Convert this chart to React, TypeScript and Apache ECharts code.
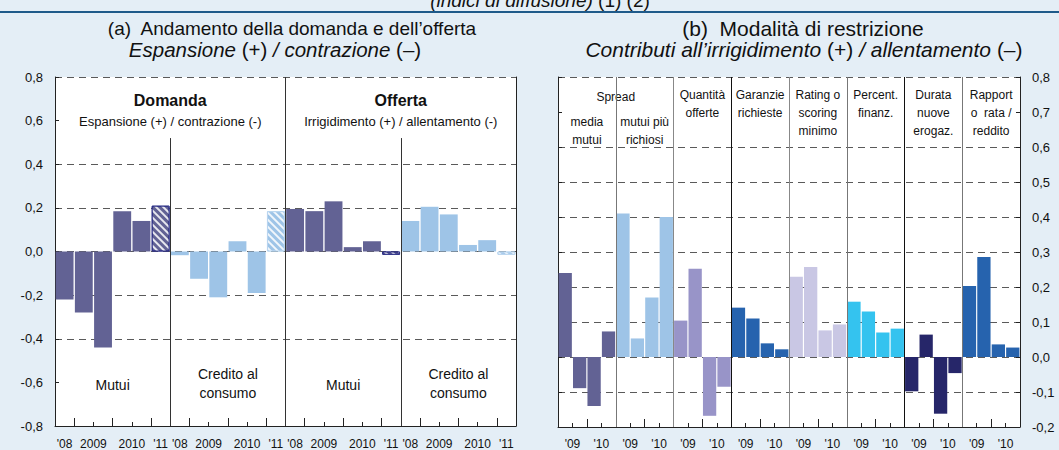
import React, { useEffect, useRef } from "react";
import * as echarts from "echarts";

// ---------- DATA ----------
// Panel (a): semi-annual periods, four blocks (demand: mortgages / consumer credit; supply: mortgages / consumer credit)
const leftGroups = ["Mutui (domanda)", "Credito al consumo (domanda)", "Mutui (offerta)", "Credito al consumo (offerta)"];
const leftPeriods = ["II 2008", "I 2009", "II 2009", "I 2010", "II 2010", "I 2011 (prev.)"];
const leftForecast = [false, false, false, false, false, true];
const demandMutui = [-0.22, -0.28, -0.44, 0.185, 0.14, 0.21];
const demandCredito = [-0.017, -0.125, -0.21, 0.047, -0.19, 0.185];
const supplyMutui = [0.195, 0.185, 0.23, 0.02, 0.047, -0.015];
const supplyCredito = [0.14, 0.205, 0.17, 0.03, 0.052, -0.015];
// tick labels on the half-period grid (12 points per block)
const leftGroupTickLabels = ["", "'08", "", "", "2009", "", "", "", "2010", "", "", "'11"];
const leftYearTickPoints = [2, 6, 10];

// Panel (b): semi-annual periods 2009-2010, eight factors
const rightGroups = [
  "Spread media mutui",
  "Spread mutui più richiosi",
  "Quantità offerte",
  "Garanzie richieste",
  "Rating o scoring minimo",
  "Percent. finanz.",
  "Durata nuove erogaz.",
  "Rapporto rata / reddito",
];
const rightPeriods = ["I 2009", "II 2009", "I 2010", "II 2010"];
const spreadMedia = [0.24, -0.089, -0.14, 0.073];
const spreadRischiosi = [0.41, 0.053, 0.17, 0.4];
const quantitaOfferte = [0.104, 0.252, -0.168, -0.085];
const garanzieRichieste = [0.141, 0.11, 0.039, 0.022];
const ratingScoring = [0.229, 0.257, 0.076, 0.093];
const percentFinanz = [0.158, 0.13, 0.07, 0.081];
const durataErogaz = [-0.098, 0.064, -0.162, -0.046];
const rapportoRataReddito = [0.203, 0.286, 0.036, 0.027];
const rightGroupTickLabels = ["", "", "'09", "", "", "", "'10", ""];
const rightYearTickPoints = [4];

// ---------- STYLE ----------
const FONT = '"Liberation Sans", Arial, sans-serif';
const BG = "#e4eef6";
const INK = "#111";
const GRIDC = "#5a5a5a";
const DARK = "#626294";
const LIGHT = "#9ec4e7";
const leftColors = [DARK, LIGHT, DARK, LIGHT];
const leftBorders = ["#2c2f86", "#b8d5ef", "#2c2f86", "#b8d5ef"];
const rightColors = ["#626294", "#9ec4e7", "#9894c8", "#2663ae", "#c9c7e4", "#34c3ef", "#262669", "#2663ae"];
const rightDividerColors = ["#777", "#888", "#111", "#888", "#777", "#111", "#777"];

// geometry
const L0 = 55, T0 = 77, W0 = 461, H0 = 350;
const L1 = 558, T1 = 77, W1 = 462, H1 = 351;

const fmt = (v: number) => v.toFixed(1).replace(".", ",").replace("-0,0", "0,0");

export default function App() {
  const ref = useRef<HTMLDivElement>(null);

  useEffect(() => {
    if (!ref.current) return;
    const chart = echarts.init(ref.current, undefined, { renderer: "svg" });

    const leftValues = [demandMutui, demandCredito, supplyMutui, supplyCredito];
    const nL = leftPeriods.length;
    const leftCats = leftGroups.flatMap((g) => leftPeriods.map((p) => g + " " + p));
    const leftPointCount = leftGroups.length * nL * 2 + 1;
    const leftPointLabels: string[] = [];
    const leftTall: boolean[] = [];
    for (let i = 0; i < leftPointCount; i++) {
      const p = i % (nL * 2);
      leftPointLabels.push(i === leftPointCount - 1 ? "" : leftGroupTickLabels[p]);
      leftTall.push(i !== leftPointCount - 1 && leftYearTickPoints.includes(p));
    }

    const hatch = {
      symbol: "rect",
      symbolSize: 1,
      dashArrayX: [1, 0],
      dashArrayY: [2, 3],
      rotation: Math.PI / 4,
      color: "rgba(255,255,255,0.85)",
    };

    const leftBarData = leftValues.flatMap((vals, g) =>
      vals.map((v, i) => ({
        value: v,
        itemStyle: leftForecast[i]
          ? { color: leftColors[g], decal: hatch, borderColor: leftBorders[g], borderWidth: 1 }
          : { color: leftColors[g] },
      }))
    );

    const rightValues = [
      spreadMedia, spreadRischiosi, quantitaOfferte, garanzieRichieste,
      ratingScoring, percentFinanz, durataErogaz, rapportoRataReddito,
    ];
    const nR = rightPeriods.length;
    const rightCats = rightGroups.flatMap((g) => rightPeriods.map((p) => g + " " + p));
    const rightPointCount = rightGroups.length * nR * 2 + 1;
    const rightPointLabels: string[] = [];
    const rightTall: boolean[] = [];
    for (let i = 0; i < rightPointCount; i++) {
      const p = i % (nR * 2);
      rightPointLabels.push(i === rightPointCount - 1 ? "" : rightGroupTickLabels[p]);
      rightTall.push(i !== rightPointCount - 1 && rightYearTickPoints.includes(p));
    }
    const rightBarData = rightValues.flatMap((vals, g) =>
      vals.map((v) => ({ value: v, itemStyle: { color: rightColors[g] } }))
    );

    // dividers (on the half-period point axes)
    const leftDividers = [
      { pt: nL * 2, top: 0.52 },
      { pt: nL * 4, top: 0.8 },
      { pt: nL * 6, top: 0.52 },
    ];
    const rightDividers = rightGroups.slice(1).map((_, k) => ({ pt: (k + 1) * nR * 2, color: rightDividerColors[k] }));

    const barAxis = (gridIndex: number, data: string[]) => ({
      type: "category",
      gridIndex,
      position: "bottom",
      data,
      boundaryGap: true,
      axisLine: { show: true, onZero: false, lineStyle: { color: "#222", width: 1 } },
      axisTick: { show: true, inside: true, length: 4, interval: 0, lineStyle: { color: "#222" } },
      axisLabel: { show: false },
      splitLine: { show: false },
    });
    const pointAxis = (gridIndex: number, count: number, labels: string[], tall: boolean[], margin: number) => ({
      type: "category",
      gridIndex,
      position: "bottom",
      data: Array.from({ length: count }, (_, i) => String(i)),
      boundaryGap: false,
      axisLine: { show: false, onZero: false },
      axisTick: {
        show: true,
        inside: true,
        length: 8,
        interval: (i: number) => tall[i],
        lineStyle: { color: "#222" },
      },
      axisLabel: {
        show: true,
        interval: 0,
        formatter: (_v: string, i: number) => labels[i],
        margin,
        fontSize: 12,
        color: INK,
        fontFamily: FONT,
      },
      splitLine: { show: false },
    });

    const leftGridColors = ["transparent", "transparent", GRIDC, GRIDC, GRIDC, GRIDC, GRIDC, "transparent", GRIDC];
    const rightGridColors = ["transparent", GRIDC, GRIDC, GRIDC, GRIDC, GRIDC, GRIDC, GRIDC, GRIDC, "transparent", GRIDC];

    const t = (text: string, x: number, y: number, size: number, extra: any = {}) => ({
      type: "text",
      x,
      y,
      silent: true,
      style: {
        text,
        fill: INK,
        fontSize: size,
        fontFamily: FONT,
        align: "center",
        verticalAlign: "middle",
        ...extra,
      },
    });
    const richTitle = (size: number) => ({
      i: { fontStyle: "italic", fontSize: size, fontFamily: FONT, fill: INK },
      n: { fontSize: size, fontFamily: FONT, fill: INK },
    });

    const gwL = W0 / leftGroups.length;
    const gwR = W1 / rightGroups.length;
    const rightHeaders = [
      { text: "media\nmutui", y: 131 },
      { text: "mutui più\nrichiosi", y: 131 },
      { text: "Quantità\nofferte", y: 104 },
      { text: "Garanzie\nrichieste", y: 104 },
      { text: "Rating o\nscoring\nminimo", y: 113 },
      { text: "Percent.\nfinanz.", y: 104 },
      { text: "Durata\nnuove\nerogaz.", y: 113 },
      { text: "Rapport\no  rata /\nreddito", y: 113 },
    ];

    const graphics: any[] = [
      {
        type: "line",
        silent: true,
        shape: { x1: 0, y1: 12, x2: 1059, y2: 12 },
        style: { stroke: "#1e5a8a", lineWidth: 2 },
      },
      t("{i|(indici di diffusione)} {n|(1) (2)}", 540, 0, 19, { rich: richTitle(19) }),
      t("(a)  Andamento della domanda e dell\u2019offerta", 292, 28, 19),
      t("{i|Espansione} {n|(+)} {i|/ contrazione} {n|(\u2013)}", 275, 49, 20.5, { rich: richTitle(20.5) }),
      t("(b)  Modalità di restrizione", 803, 28, 21),
      t("{i|Contributi all\u2019irrigidimento} {n|(+)} {i|/ allentamento} {n|(\u2013)}", 804, 49, 21, { rich: richTitle(21) }),
      t("Domanda", L0 + W0 / 4, 100, 16, { fontWeight: "bold" }),
      t("Espansione (+) / contrazione (-)", L0 + W0 / 4, 121, 13),
      t("Offerta", L0 + (3 * W0) / 4, 100, 16, { fontWeight: "bold" }),
      t("Irrigidimento (+) / allentamento (-)", L0 + (3 * W0) / 4, 121, 13),
      t("Mutui", L0 + gwL * 0.5, 385, 14),
      t("Credito al\nconsumo", L0 + gwL * 1.5, 383, 14, { lineHeight: 19 }),
      t("Mutui", L0 + gwL * 2.5, 385, 14),
      t("Credito al\nconsumo", L0 + gwL * 3.5, 383, 14, { lineHeight: 19 }),
      t("Spread", L1 + gwR, 97, 12, { backgroundColor: "#fff", padding: [4, 4] }),
      ...rightHeaders.map((h, g) => t(h.text, L1 + gwR * (g + 0.5), h.y, 12, { lineHeight: 18 })),
    ];

    const option: any = {
      animation: false,
      backgroundColor: BG,
      grid: [
        { left: L0, top: T0, width: W0, height: H0, show: true, backgroundColor: "#fff", borderWidth: 0 },
        { left: L1, top: T1, width: W1, height: H1, show: true, backgroundColor: "#fff", borderWidth: 0 },
      ],
      xAxis: [
        barAxis(0, leftCats),
        pointAxis(0, leftPointCount, leftPointLabels, leftTall, 12),
        barAxis(1, rightCats),
        pointAxis(1, rightPointCount, rightPointLabels, rightTall, 11),
      ],
      yAxis: [
        {
          type: "value",
          gridIndex: 0,
          position: "left",
          min: -0.8,
          max: 0.8,
          interval: 0.2,
          axisLine: { show: true, lineStyle: { color: "#222" } },
          axisTick: { show: true, inside: true, length: 4, lineStyle: { color: "#222" } },
          axisLabel: { formatter: fmt, fontSize: 13, color: INK, margin: 12, fontFamily: FONT },
          splitLine: { show: true, lineStyle: { type: [7, 5], color: leftGridColors, width: 1 } },
        },
        {
          type: "value",
          gridIndex: 0,
          position: "right",
          min: -0.8,
          max: 0.8,
          interval: 0.2,
          axisLine: { show: true, lineStyle: { color: "#222" } },
          axisTick: { show: false },
          axisLabel: { show: false },
          splitLine: { show: false },
        },
        {
          type: "value",
          gridIndex: 1,
          position: "left",
          min: -0.2,
          max: 0.8,
          interval: 0.1,
          axisLine: { show: true, lineStyle: { color: "#222" } },
          axisTick: { show: true, inside: true, length: 4, lineStyle: { color: "#222" } },
          axisLabel: { show: false },
          splitLine: { show: true, lineStyle: { type: [7, 5], color: rightGridColors, width: 1 } },
        },
        {
          type: "value",
          gridIndex: 1,
          position: "right",
          min: -0.2,
          max: 0.8,
          interval: 0.1,
          axisLine: { show: true, lineStyle: { color: "#222" } },
          axisTick: { show: true, inside: true, length: 4, lineStyle: { color: "#222" } },
          axisLabel: { formatter: fmt, fontSize: 13, color: INK, margin: 12, fontFamily: FONT },
          splitLine: { show: false },
        },
      ],
      series: [
        {
          type: "bar",
          xAxisIndex: 0,
          yAxisIndex: 0,
          data: leftBarData,
          barCategoryGap: "7%",
          z: 2,
        },
        {
          type: "bar",
          xAxisIndex: 2,
          yAxisIndex: 2,
          data: rightBarData,
          barCategoryGap: "8%",
          z: 2,
        },
        {
          type: "line",
          xAxisIndex: 1,
          yAxisIndex: 0,
          data: [],
          silent: true,
          markLine: {
            silent: true,
            symbol: ["none", "none"],
            label: { show: false },
            lineStyle: { type: "solid", color: "#333", width: 1 },
            data: leftDividers.map((d) => [{ coord: [d.pt, d.top] }, { coord: [d.pt, -0.8] }]),
          },
        },
        {
          type: "line",
          xAxisIndex: 3,
          yAxisIndex: 2,
          data: [],
          silent: true,
          markLine: {
            silent: true,
            symbol: ["none", "none"],
            label: { show: false },
            lineStyle: { type: "solid", color: "#777", width: 1 },
            data: rightDividers.map((d) => [
              { coord: [d.pt, 0.8], lineStyle: { color: d.color, type: "solid", width: 1 } },
              { coord: [d.pt, -0.2] },
            ]),
          },
        },
      ],
      graphic: graphics,
    };

    chart.setOption(option);
    return () => chart.dispose();
  }, []);

  return (
    <div
      ref={ref}
      style={{ position: "fixed", left: 0, top: 0, width: 1059, height: 450 }}
    />
  );
}
